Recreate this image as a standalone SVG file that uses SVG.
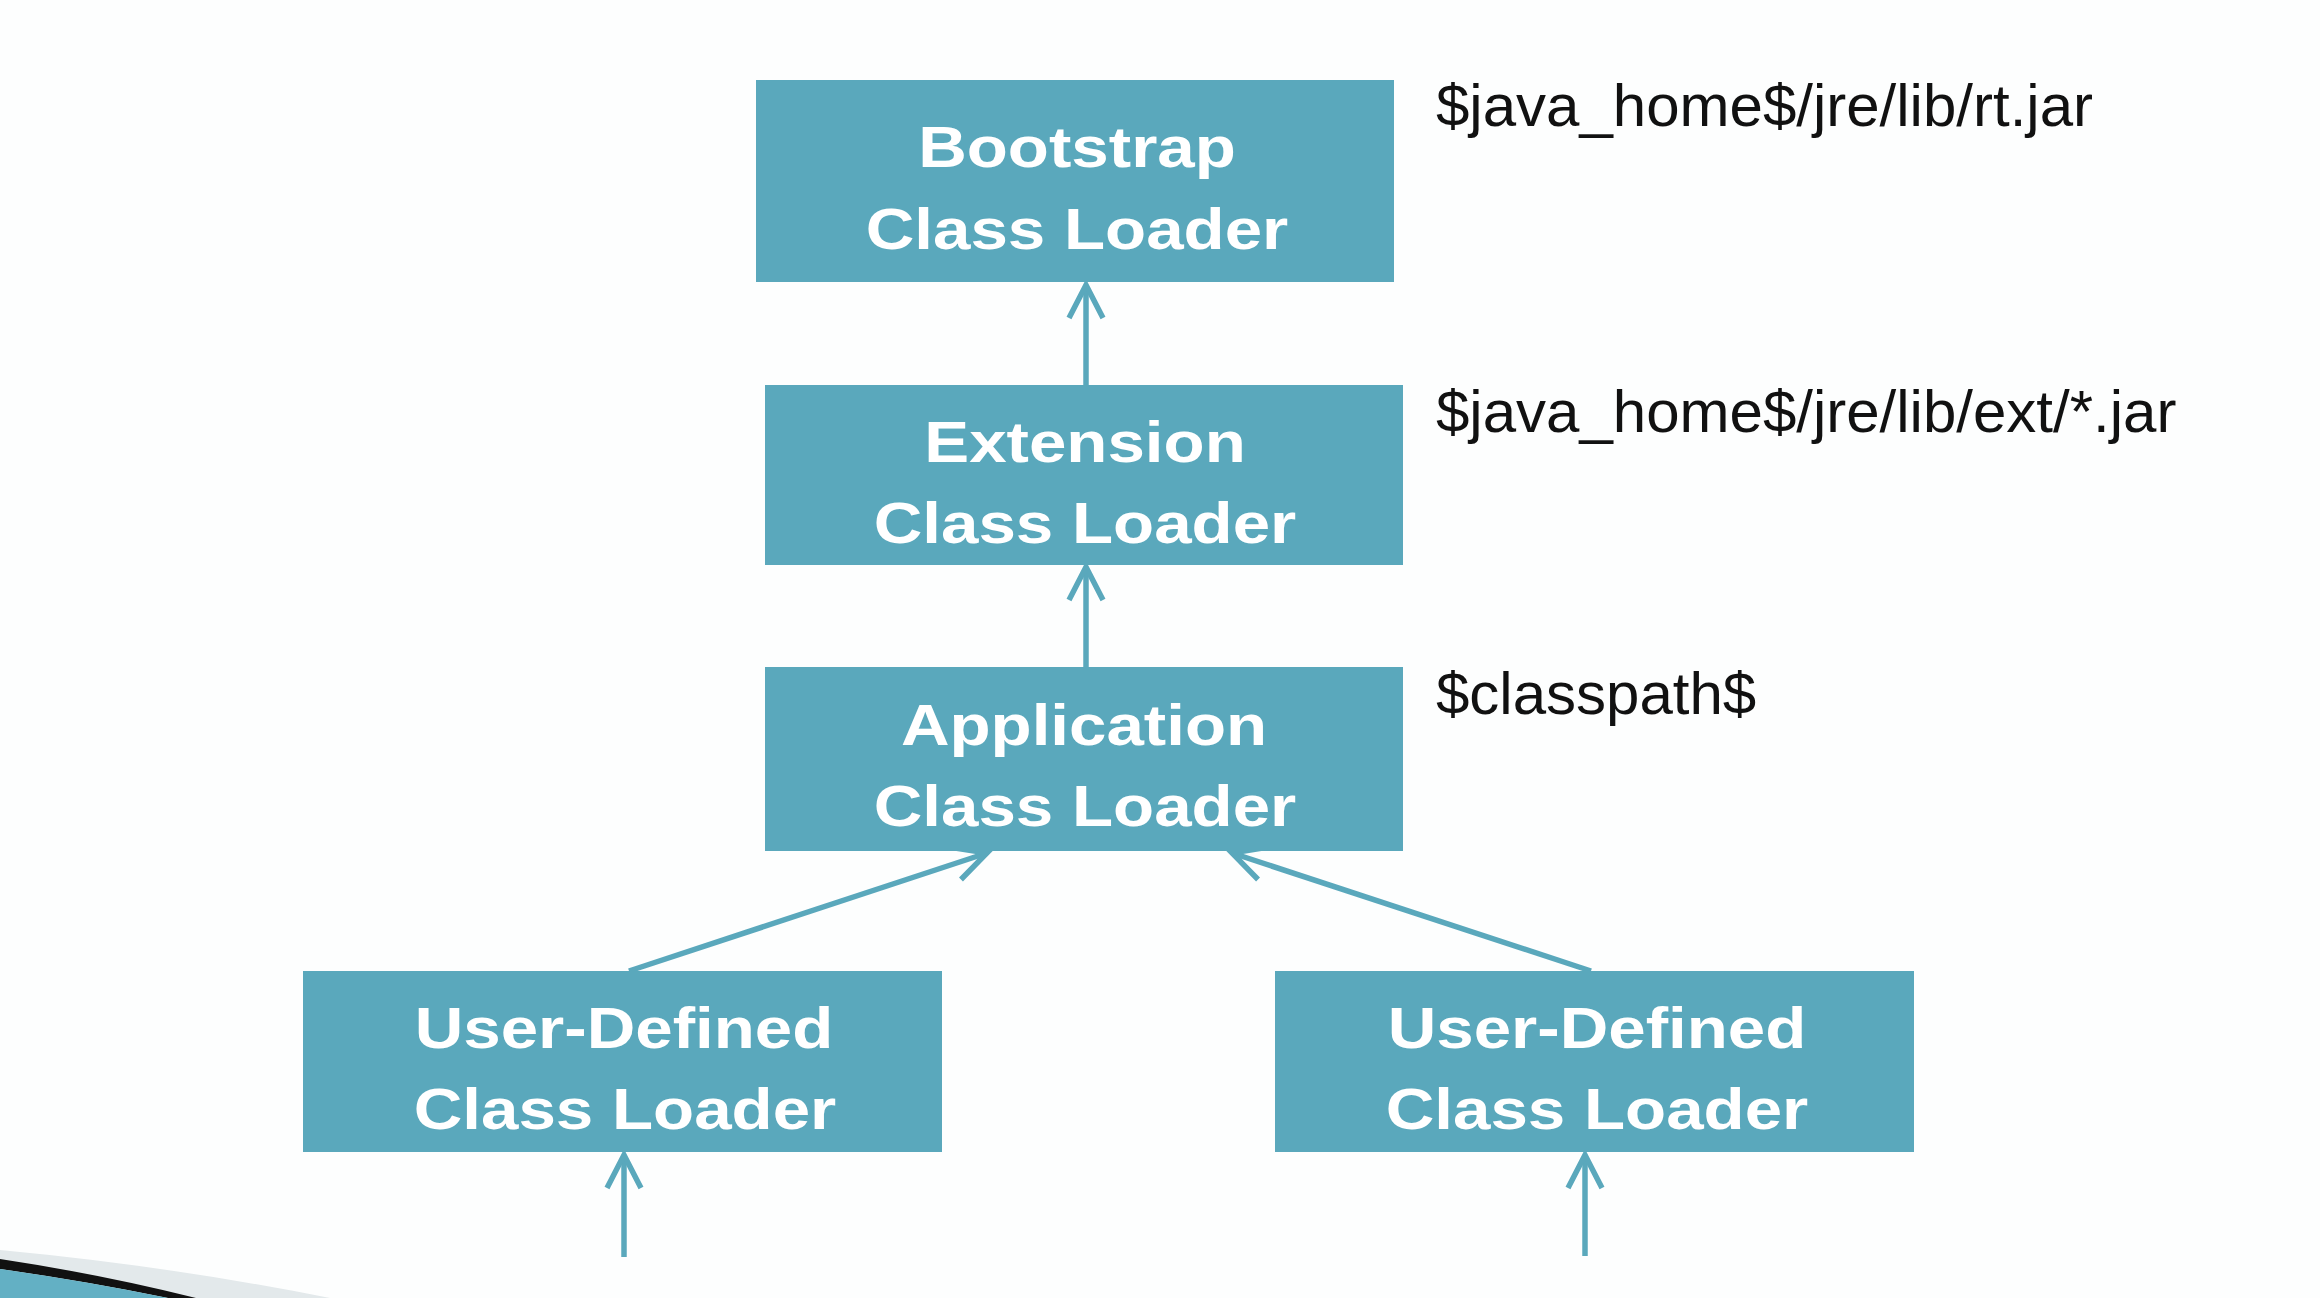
<svg xmlns="http://www.w3.org/2000/svg" width="2320" height="1298" viewBox="0 0 2320 1298">
  <style>
    .box { fill: #5aa8bc; }
    .lbl { font-family: "Liberation Sans", Arial, sans-serif; font-weight: bold; font-size: 58px; fill: #ffffff; text-anchor: middle; }
    .path { font-family: "Liberation Sans", Arial, sans-serif; font-size: 60px; fill: #111111; }
    .conn { stroke: #5aa8bc; stroke-width: 5.5; fill: none; }
  </style>
  <defs>
    <marker id="arrow" markerUnits="userSpaceOnUse" viewBox="-40 -22 44 44" refX="0" refY="0" markerWidth="44" markerHeight="44" orient="auto" overflow="visible">
      <path d="M -33 -17 L 0 0 L -33 17" fill="none" stroke="#5aa8bc" stroke-width="5.5" stroke-linejoin="miter" stroke-linecap="butt"/>
    </marker>
  </defs>
  <rect x="0" y="0" width="2320" height="1298" fill="#fdfefe"/>

  <g id="decoration">
    <path d="M0,1250 Q170,1266 330,1298 L0,1298 Z" fill="#e3e9eb"/>
    <path d="M0,1259 Q100,1274 196,1298 L168,1298 Q85,1281 0,1269 Z" fill="#111111"/>
    <path d="M0,1269 Q85,1281 168,1298 L0,1298 Z" fill="#63b0c4"/>
  </g>

  <g id="connectors">
    <line class="conn" x1="1086" y1="386" x2="1086" y2="285" marker-end="url(#arrow)"/>
    <line class="conn" x1="1086" y1="667" x2="1086" y2="567" marker-end="url(#arrow)"/>
    <line class="conn" x1="629" y1="971" x2="987" y2="853" marker-end="url(#arrow)"/>
    <line class="conn" x1="1591" y1="971" x2="1232" y2="853" marker-end="url(#arrow)"/>
    <line class="conn" x1="624" y1="1257" x2="624" y2="1155" marker-end="url(#arrow)"/>
    <line class="conn" x1="1585" y1="1256" x2="1585" y2="1155" marker-end="url(#arrow)"/>
  </g>

  <g id="bootstrap">
    <rect class="box" x="756" y="80" width="638" height="202"/>
    <text class="lbl" transform="translate(1077 167) scale(1.16 1)">Bootstrap</text>
    <text class="lbl" transform="translate(1077 249) scale(1.16 1)">Class Loader</text>
  </g>

  <g id="extension">
    <rect class="box" x="765" y="385" width="638" height="180"/>
    <text class="lbl" transform="translate(1085 462) scale(1.16 1)">Extension</text>
    <text class="lbl" transform="translate(1085 543) scale(1.16 1)">Class Loader</text>
  </g>

  <g id="application">
    <rect class="box" x="765" y="667" width="638" height="184"/>
    <text class="lbl" transform="translate(1084 745) scale(1.16 1)">Application</text>
    <text class="lbl" transform="translate(1085 826) scale(1.16 1)">Class Loader</text>
  </g>

  <g id="user-defined-left">
    <rect class="box" x="303" y="971" width="639" height="181"/>
    <text class="lbl" transform="translate(624 1048) scale(1.16 1)">User-Defined</text>
    <text class="lbl" transform="translate(625 1129) scale(1.16 1)">Class Loader</text>
  </g>

  <g id="user-defined-right">
    <rect class="box" x="1275" y="971" width="639" height="181"/>
    <text class="lbl" transform="translate(1597 1048) scale(1.16 1)">User-Defined</text>
    <text class="lbl" transform="translate(1597 1129) scale(1.16 1)">Class Loader</text>
  </g>

  <g id="paths">
    <text class="path" transform="translate(1436 126) scale(1.0 1)">$java_home$/jre/lib/rt.jar</text>
    <text class="path" transform="translate(1436 432) scale(1.0 1)">$java_home$/jre/lib/ext/*.jar</text>
    <text class="path" transform="translate(1436 714) scale(1.0 1)">$classpath$</text>
  </g>
</svg>
